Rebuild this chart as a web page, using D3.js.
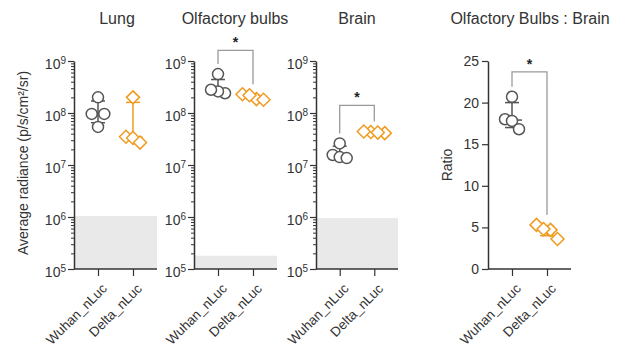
<!DOCTYPE html>
<html><head><meta charset="utf-8">
<script src="https://cdn.jsdelivr.net/npm/d3@7"></script>
<style>body{margin:0;background:#fff}svg{display:block;font-family:"Liberation Sans",Arial,sans-serif}</style>
</head><body><svg id="c" width="619" height="352"></svg>
<script>
const categories = ["Wuhan_nLuc", "Delta_nLuc"];
const panelTitles = ["Lung", "Olfactory bulbs", "Brain", "Olfactory Bulbs : Brain"];
const logTickLabels = ["5", "6", "7", "8", "9"];
const ratioTicks = [0, 5, 10, 15, 20, 25];

const lungWuhan = [2.0e8, 9.6e7, 9.6e7, 5.4e7];
const lungDelta = [2.0e8, 3.5e7, 3.3e7, 2.7e7];
const obWuhan = [5.6e8, 2.4e8, 2.6e8, 2.8e8];
const obDelta = [1.85e8, 2.3e8, 1.8e8, 2.2e8];
const brainWuhan = [2.6e7, 1.56e7, 1.42e7, 1.36e7];
const brainDelta = [4.1e7, 4.3e7, 4.4e7, 4.2e7];
const ratioWuhan = [20.7, 18.0, 17.8, 16.8];
const ratioDelta = [5.3, 4.7, 4.8, 3.6];

// [median, lower, upper] per group
const lungBars = [[9.6e7, 6.5e7, 1.7e8], [3.4e7, 3.0e7, 1.6e8]];
const obBars = [[2.6e8, 2.45e8, 4.4e8], [2.0e8, 1.85e8, 2.2e8]];
const brainBars = [[1.5e7, 1.38e7, 2.3e7], [4.2e7, 4.1e7, 4.35e7]];
const ratioBars = [[17.9, 17.0, 20.0], [4.8, 4.0, 5.2]];

// detection limit (grey band top)
const detectionLimits = [1.05e6, 1.8e5, 9.5e5];
// significance bracket levels (null = none)
const bracketLevels = [null, 1.6e9, 1.4e8, 23.7];
const sigLabels = [null, "*", "*", "*"];

const C_W = "#555555", C_D = "#F09A20", C_BR = "#9a9a9a", C_AX = "#333";
const FONT = '"Liberation Sans",Arial,sans-serif';
const svg = d3.select("#c");

const panels = [
  {title: panelTitles[0], data: [lungWuhan, lungDelta], bars: lungBars, limit: detectionLimits[0], br: bracketLevels[0], log: true, x0: 74, x1: 157, tx: 117},
  {title: panelTitles[1], data: [obWuhan, obDelta], bars: obBars, limit: detectionLimits[1], br: bracketLevels[1], log: true, x0: 194, x1: 277, tx: 235},
  {title: panelTitles[2], data: [brainWuhan, brainDelta], bars: brainBars, limit: detectionLimits[2], br: bracketLevels[2], log: true, x0: 316, x1: 398, tx: 357},
  {title: panelTitles[3], data: [ratioWuhan, ratioDelta], bars: ratioBars, limit: null, br: bracketLevels[3], log: false, x0: 488, x1: 571, tx: 530}
];
const yTop = 61, yBot = 269;

function dodge(ys, d, r) {
  const idx = ys.map((y, i) => i).sort((a, b) => ys[a] - ys[b]);
  const off = new Array(ys.length).fill(0);
  let row = [];
  const flush = () => {
    const n = row.length;
    row.forEach((k, j) => off[k] = (j - (n - 1) / 2) * d * (n === 2 ? 1.8 : 1));
    row = [];
  };
  idx.forEach(i => {
    if (row.length && ys[i] - ys[row[row.length - 1]] >= 2 * r) flush();
    row.push(i);
  });
  flush();
  return off;
}

panels.forEach((p, pi) => {
  const g = svg.append("g");
  const x = d3.scalePoint().domain(categories).range([p.x0, p.x1]).padding(0.686);
  const y = p.log ? d3.scaleLog().domain([1e5, 1e9]).range([yBot, yTop])
                  : d3.scaleLinear().domain([0, 25]).range([yBot, yTop]);

  if (p.limit) {
    g.append("rect").attr("x", p.x0).attr("y", y(p.limit)).attr("width", p.x1 - p.x0)
      .attr("height", yBot - y(p.limit)).attr("fill", "#e9e9e9");
  }

  let yAxis;
  if (p.log) {
    const majors = logTickLabels.map(e => Math.pow(10, +e));
    const minors = [];
    for (let k = 5; k < 9; k++) for (let m = 2; m <= 9; m++) minors.push(m * Math.pow(10, k));
    g.append("g").attr("transform", `translate(${p.x0},0)`)
      .call(d3.axisLeft(y).tickValues(minors).tickSize(3).tickFormat(""))
      .call(a => a.select(".domain").remove())
      .selectAll("line").attr("stroke", C_AX);
    yAxis = d3.axisLeft(y).tickValues(majors).tickSize(6).tickSizeOuter(0).tickFormat(() => "");
  } else {
    yAxis = d3.axisLeft(y).tickValues(ratioTicks).tickSize(6).tickSizeOuter(0).tickFormat(d3.format("d"));
  }
  const ya = g.append("g").attr("transform", `translate(${p.x0},0)`).call(yAxis);
  ya.select(".domain").attr("stroke", C_AX).attr("stroke-width", 1.5);
  ya.selectAll(".tick line").attr("stroke", C_AX).attr("stroke-width", 1.2);
  ya.selectAll(".tick text").attr("font-size", 14).attr("fill", "#333").attr("x", -9)
    .attr("font-family", FONT);
  if (p.log) {
    ya.selectAll(".tick").each(function(d, i) {
      const t = d3.select(this).select("text").text(null);
      t.append("tspan").text("10");
      t.append("tspan").attr("dy", "-0.5em").attr("font-size", 10).text(logTickLabels[i]);
      t.attr("text-anchor", "end").attr("dy", "0.5em").attr("x", -8);
    });
  }

  const xa = g.append("g").attr("transform", `translate(0,${yBot})`)
    .call(d3.axisBottom(x).tickSize(7).tickSizeOuter(0));
  xa.select(".domain").attr("stroke", C_AX).attr("stroke-width", 1.5)
    .attr("d", `M${p.x0},0H${p.x1}`);
  xa.selectAll(".tick line").attr("stroke", C_AX).attr("stroke-width", 1.2);
  xa.selectAll(".tick text").attr("font-size", 13.5).attr("fill", "#333")
    .attr("font-family", FONT)
    .attr("text-anchor", "end").attr("transform", "translate(6,17) rotate(-45)").attr("x", 0).attr("y", 0).attr("dy", "0.35em");

  g.append("text").attr("x", p.tx).attr("y", 24).attr("text-anchor", "middle")
    .attr("font-size", 16).attr("fill", "#333").text(p.title);

  if (pi === 0) {
    g.append("text").attr("transform", `translate(28,${(yTop + yBot) / 2 - 2}) rotate(-90)`)
      .attr("text-anchor", "middle").attr("font-size", 14).attr("fill", "#333")
      .text("Average radiance (p/s/cm²/sr)");
  }
  if (pi === 3) {
    g.append("text").attr("transform", `translate(452,${(yTop + yBot) / 2}) rotate(-90)`)
      .attr("text-anchor", "middle").attr("font-size", 14).attr("fill", "#333").text("Ratio");
  }

  p.data.forEach((vals, gi) => {
    const cx = x(categories[gi]);
    const col = gi === 0 ? C_W : C_D;
    const [med, lo, hi] = p.bars[gi];
    const eb = g.append("g").attr("stroke", col).attr("stroke-width", 1.5);
    eb.append("line").attr("x1", cx).attr("x2", cx).attr("y1", y(lo)).attr("y2", y(hi));
    eb.append("line").attr("x1", cx - 7).attr("x2", cx + 7).attr("y1", y(lo)).attr("y2", y(lo));
    eb.append("line").attr("x1", cx - 7).attr("x2", cx + 7).attr("y1", y(hi)).attr("y2", y(hi));
    eb.append("line").attr("x1", cx - 10).attr("x2", cx + 10).attr("y1", y(med)).attr("y2", y(med));

    const ys = vals.map(v => y(v));
    const offs = dodge(ys, 7, 5.5);
    vals.forEach((v, i) => {
      const px = cx + offs[i], py = y(v);
      if (gi === 0) {
        g.append("circle").attr("cx", px).attr("cy", py).attr("r", 5.5)
          .attr("fill", "#fff").attr("stroke", col).attr("stroke-width", 1.5);
      } else {
        const s = 6.5;
        g.append("path").attr("d", `M${px},${py - s}L${px + s},${py}L${px},${py + s}L${px - s},${py}Z`)
          .attr("fill", "#fff").attr("stroke", col).attr("stroke-width", 1.5);
      }
    });
  });

  if (p.br != null) {
    const yb = y(p.br);
    const xl = x(categories[0]), xr = x(categories[1]);
    const yl = y(d3.max(p.data[0])) - 10, yr = y(d3.max(p.data[1])) - 10;
    g.append("path").attr("d", `M${xl},${yl}V${yb}H${xr}V${yr}`)
      .attr("fill", "none").attr("stroke", C_BR).attr("stroke-width", 1.3);
    g.append("text").attr("x", (xl + xr) / 2).attr("y", yb - 3).attr("text-anchor", "middle")
      .attr("font-size", 14).attr("font-weight", "bold").attr("fill", "#222").text(sigLabels[pi]);
  }
});
</script></body></html>
